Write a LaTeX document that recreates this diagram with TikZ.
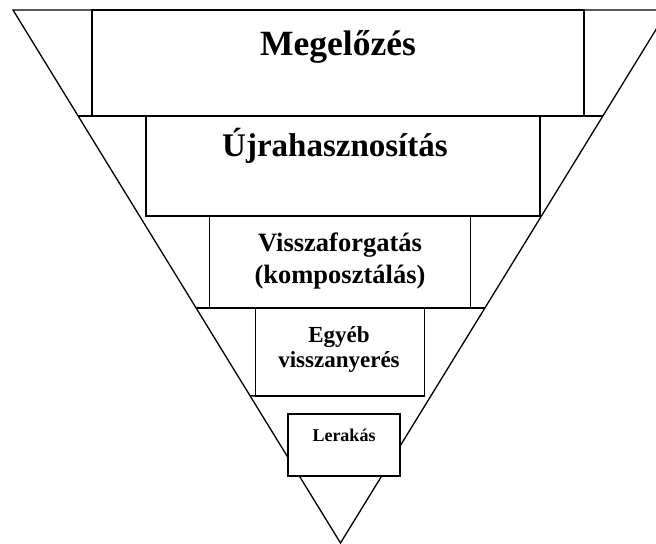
\documentclass[tikz,border=0pt]{standalone}
\usepackage{fontspec}
\setmainfont{Liberation Serif}
\usetikzlibrary{calc}

\tikzset{
  blok/.style={draw, fill=white, line width=1.6bp, inner sep=0pt},
  felirat/.style={inner sep=0pt, align=center, anchor=base},
}

\begin{document}
\begin{tikzpicture}[x=1bp,y=-1bp]
    \useasboundingbox (0,0) rectangle (656,544);
    \clip (0,0) rectangle (656,544);
    % the funnel
    \coordinate (tl) at (13,10);
    \coordinate (tr) at (668,10);
    \coordinate (ap) at (340.5,543);
    \draw[line width=1.3bp] (tl) -- (tr) -- (ap) -- cycle;
    \coordinate (la) at ($(tl)!0.199!(ap)$);
    \coordinate (ra) at ($(tr)!0.199!(ap)$);
    \coordinate (lb) at ($(tl)!0.559!(ap)$);
    \coordinate (rb) at ($(tr)!0.559!(ap)$);
    \coordinate (lc) at ($(tl)!0.724!(ap)$);
    \coordinate (rc) at (425,396);
    \draw[line width=1.6bp] (la) -- (ra);
    \draw[line width=1.6bp] (lb) -- (rb);
    \draw[line width=1.6bp] (lc) -- (rc);
    % the steps
    \node[blok, minimum width=494, minimum height=106] (b1) at (338,63) {};
    \node[blok, minimum width=396, minimum height=100] (b2) at (343,166) {};
    \node[blok, minimum width=262, minimum height=92] (b3) at (340,262) {};
    \node[blok, minimum width=170, minimum height=88] (b4) at (340,352) {};
    \node[blok, minimum width=112, minimum height=62] (b5) at (344,445) {};
    % texts
    \node[felirat, font=\bfseries\fontsize{35.5bp}{40bp}\selectfont] (t1) at (338,56) {Megelőzés};
    \node[felirat, font=\bfseries\fontsize{33bp}{38bp}\selectfont] (t2) at (335,157) {Újrahasznosítás};
    \node[felirat, font=\bfseries\fontsize{26.5bp}{31bp}\selectfont] (t3) at (340,283) {Visszaforgatás\\(komposztálás)};
    \node[felirat, font=\bfseries\fontsize{23bp}{24.5bp}\selectfont] (t4) at (339,367) {Egyéb\\visszanyerés};
    \node[felirat, font=\bfseries\fontsize{18bp}{21bp}\selectfont] (t5) at (344,441) {Lerakás};
\end{tikzpicture}
\end{document}
